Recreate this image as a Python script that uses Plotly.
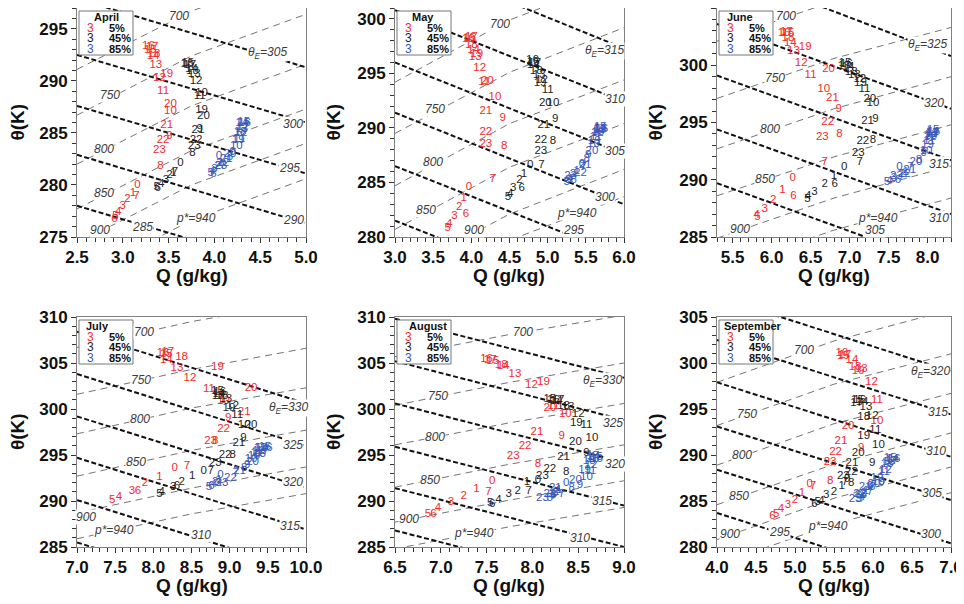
import plotly.graph_objects as go
from plotly.subplots import make_subplots

FONT = "Liberation Sans, Arial, sans-serif"
HOURS = ["0", "1", "2", "3", "4", "5", "6", "7", "8", "9", "10", "11",
         "12", "13", "14", "15", "16", "17", "18", "19", "20", "21", "22", "23"]
PCT_LABELS = ["5%", "45%", "85%"]
COLORS = ["#f22b2b", "#1e1e1e", "#3a58b8"]

# ---------------- April ----------------
APR_XR = [2.5, 5.0]
APR_YR = [275, 297]
APR_Q05 = [3.16, 3.11, 3.05, 3.00, 2.95, 2.92, 2.91, 3.15, 3.41, 3.51, 3.52, 3.44,
           3.40, 3.36, 3.33, 3.30, 3.28, 3.32, 3.34, 3.48, 3.52, 3.48, 3.44, 3.40]
APR_T05 = [280.0, 279.2, 278.6, 278.0, 277.4, 277.0, 276.7, 278.9, 281.8, 284.7, 287.1, 289.0,
           290.3, 291.5, 292.4, 293.0, 293.3, 293.2, 292.6, 290.6, 287.8, 285.7, 284.3, 283.3]
APR_Q45 = [3.63, 3.55, 3.51, 3.47, 3.42, 3.37, 3.38, 3.57, 3.76, 3.84, 3.86, 3.84,
           3.80, 3.78, 3.75, 3.71, 3.70, 3.73, 3.76, 3.86, 3.88, 3.82, 3.80, 3.78]
APR_T45 = [282.1, 281.1, 280.9, 280.5, 280.1, 279.8, 279.7, 281.2, 283.1, 285.4, 288.8, 288.5,
           290.0, 290.6, 291.1, 291.7, 291.6, 291.5, 290.9, 287.2, 286.6, 285.3, 284.3, 283.7]
APR_Q85 = [4.05, 4.07, 4.04, 4.00, 3.98, 3.96, 3.99, 4.09, 4.17, 4.20, 4.24, 4.27,
           4.29, 4.30, 4.30, 4.32, 4.33, 4.31, 4.28, 4.26, 4.17, 4.13, 4.09, 4.07]
APR_T85 = [282.8, 282.1, 281.8, 281.5, 281.3, 281.1, 281.0, 281.9, 282.7, 283.2, 283.7, 284.4,
           285.0, 285.4, 285.9, 286.0, 285.9, 285.6, 285.1, 284.3, 283.0, 282.5, 282.1, 281.8]
APR_TE_L = [297.9, 292.5, 287.6, 282.9, 278.0]
APR_TE_R = [291.3, 286.0, 281.1, 276.3, 271.5]
APR_TE_LAB = [305, 300, 295, 290, 285]
APR_TE_LQ = [4.58, 4.86, 4.82, 4.86, 3.22]
APR_TE_LT = [292.7, 285.9, 281.6, 276.6, 276.0]
APR_PS_T = [[291.1, 296.7, 300.7], [286.7, 292.4, 296.4], [282.0, 287.6, 291.6],
            [277.7, 283.3, 287.3], [274.4, 280.0, 284.0], [271.0, 276.6, 280.6]]
APR_PS_LAB = [700, 750, 800, 850, 900, 940]
APR_PS_LQ = [3.61, 2.86, 2.79, 2.79, 2.75, 3.80]
APR_PS_LT = [296.2, 288.6, 283.5, 279.2, 275.7, 276.8]

# ---------------- May ----------------
MAY_XR = [3.0, 6.0]
MAY_YR = [280, 301]
MAY_Q05 = [3.97, 3.90, 3.84, 3.78, 3.71, 3.69, 3.93, 4.28, 4.43, 4.41, 4.31, 4.17,
           4.11, 4.05, 4.03, 3.98, 3.96, 4.00, 4.00, 4.07, 4.21, 4.19, 4.19, 4.19]
MAY_T05 = [284.6, 283.6, 282.7, 281.9, 281.2, 280.8, 282.1, 285.3, 288.3, 290.9, 292.8, 294.2,
           295.5, 296.5, 297.1, 298.2, 298.1, 298.3, 297.6, 296.8, 294.3, 291.5, 289.6, 288.5]
MAY_Q45 = [4.77, 4.69, 4.63, 4.55, 4.51, 4.48, 4.66, 4.92, 5.07, 5.10, 5.07, 5.00,
           4.92, 4.89, 4.81, 4.81, 4.80, 4.83, 4.85, 4.90, 4.97, 4.95, 4.91, 4.91]
MAY_T45 = [286.6, 285.8, 285.2, 284.5, 283.9, 283.7, 284.5, 286.6, 288.8, 290.8, 292.3, 293.5,
           294.4, 294.8, 295.8, 296.0, 296.2, 295.9, 295.2, 294.1, 292.3, 290.3, 288.9, 287.9]
MAY_Q85 = [5.45, 5.38, 5.33, 5.27, 5.29, 5.25, 5.34, 5.47, 5.51, 5.53, 5.60, 5.63,
           5.65, 5.68, 5.69, 5.69, 5.71, 5.68, 5.66, 5.61, 5.58, 5.49, 5.43, 5.30]
MAY_T85 = [286.7, 286.0, 285.8, 285.2, 285.3, 285.0, 285.2, 286.4, 287.1, 287.5, 288.5, 289.2,
           289.5, 289.8, 290.0, 290.1, 289.9, 289.9, 289.6, 288.8, 287.9, 286.6, 285.9, 285.6]
MAY_TE_L = [305.8, 300.8, 296.0, 291.4, 286.5, 281.5]
MAY_TE_R = [297.3, 292.4, 287.6, 283.0, 278.2, 273.2]
MAY_TE_LAB = [315, 310, 305, 300, 295]
MAY_TE_LQ = [5.75, 5.88, 5.88, 5.75, 5.34]
MAY_TE_LT = [297.1, 292.7, 287.9, 283.7, 280.6]
MAY_PS_T = [[294.2, 299.9, 303.9], [289.5, 295.1, 299.2], [284.7, 290.4, 294.4],
            [280.7, 286.4, 290.4], [276.5, 282.1, 286.2], [274.0, 279.7, 283.7]]
MAY_PS_LAB = [700, 750, 800, 850, 900, 940]
MAY_PS_LQ = [4.38, 3.52, 3.50, 3.41, 4.03, 5.38]
MAY_PS_LT = [299.5, 291.7, 286.9, 282.5, 280.6, 282.2]

# ---------------- June ----------------
JUN_XR = [5.3, 8.3]
JUN_YR = [285, 305]
JUN_Q05 = [6.27, 6.14, 6.02, 5.91, 5.81, 5.82, 6.28, 6.68, 6.87, 6.86, 6.67, 6.50,
           6.38, 6.28, 6.24, 6.21, 6.16, 6.19, 6.21, 6.43, 6.73, 6.78, 6.72, 6.65]
JUN_T05 = [290.1, 289.1, 288.2, 287.4, 286.9, 286.7, 288.6, 291.5, 294.0, 296.2, 297.9, 299.1,
           300.2, 301.2, 301.9, 302.8, 302.8, 302.9, 302.4, 301.6, 299.7, 297.1, 295.0, 293.7]
JUN_Q45 = [6.93, 6.80, 6.68, 6.55, 6.47, 6.46, 6.81, 7.13, 7.30, 7.33, 7.30, 7.19,
           7.13, 7.06, 6.98, 6.94, 6.96, 6.93, 7.02, 7.14, 7.26, 7.23, 7.17, 7.11]
JUN_T45 = [291.1, 290.3, 289.6, 288.9, 288.6, 288.3, 289.6, 291.5, 293.5, 295.3, 296.7, 297.9,
           298.8, 299.1, 299.8, 300.2, 300.1, 299.9, 299.4, 298.4, 297.0, 295.1, 293.4, 292.3]
JUN_Q85 = [7.64, 7.72, 7.68, 7.57, 7.51, 7.48, 7.62, 7.78, 7.89, 7.95, 7.98, 8.02,
           8.03, 8.05, 8.06, 8.07, 8.08, 8.06, 8.04, 8.00, 7.85, 7.77, 7.70, 7.60]
JUN_T85 = [291.1, 290.7, 290.5, 290.1, 289.9, 289.8, 290.0, 291.1, 291.7, 292.3, 292.5, 293.4,
           293.7, 294.0, 294.2, 294.3, 294.2, 294.1, 293.8, 293.0, 291.5, 290.8, 290.5, 290.3]
JUN_TE_L = [308.6, 303.6, 299.1, 294.4, 289.7]
JUN_TE_R = [300.8, 296.2, 291.7, 287.0, 282.3]
JUN_TE_LAB = [325, 320, 315, 310, 305]
JUN_TE_LQ = [8.00, 8.08, 8.15, 8.15, 7.32]
JUN_TE_LT = [301.8, 296.7, 291.4, 286.7, 285.6]
JUN_PS_T = [[302.1, 305.6, 308.4], [297.1, 300.6, 303.3], [292.7, 296.2, 299.0],
            [288.6, 292.0, 294.8], [284.9, 288.4, 291.2], [282.1, 285.6, 288.4]]
JUN_PS_LAB = [700, 750, 800, 850, 900, 940]
JUN_PS_LQ = [6.19, 6.04, 5.98, 5.92, 5.60, 7.36]
JUN_PS_LT = [304.3, 298.9, 294.4, 290.1, 285.7, 286.7]

# ---------------- July ----------------
JUL_XR = [7.0, 10.0]
JUL_YR = [285, 310]
JUL_Q05 = [8.28, 8.08, 7.89, 7.72, 7.55, 7.46, 7.80, 8.44, 8.81, 8.98, 8.92, 8.73,
           8.48, 8.31, 8.17, 8.17, 8.13, 8.19, 8.37, 8.84, 9.28, 9.19, 8.92, 8.75]
JUL_T05 = [293.6, 292.6, 291.9, 291.1, 290.4, 290.1, 291.1, 293.8, 296.5, 299.0, 300.9, 302.2,
           303.4, 304.4, 305.3, 306.0, 306.1, 306.2, 305.6, 304.5, 302.3, 299.7, 297.8, 296.5]
JUL_Q45 = [8.66, 8.51, 8.37, 8.26, 8.11, 8.08, 8.31, 8.75, 9.04, 9.18, 9.19, 9.10,
           9.04, 8.95, 8.86, 8.84, 8.87, 8.85, 8.90, 8.99, 9.28, 9.12, 8.94, 8.81]
JUL_T45 = [293.3, 292.7, 292.1, 291.5, 291.0, 290.8, 291.6, 293.2, 295.0, 296.8, 298.2, 299.3,
           300.3, 301.1, 301.6, 301.9, 301.8, 301.4, 301.4, 300.1, 298.2, 296.3, 295.0, 294.1]
JUL_Q85 = [8.88, 8.86, 8.81, 8.85, 8.79, 8.73, 8.76, 9.08, 9.19, 9.23, 9.28, 9.35,
           9.38, 9.40, 9.42, 9.46, 9.48, 9.43, 9.39, 9.32, 9.30, 9.13, 9.01, 8.90]
JUL_T85 = [292.8, 292.3, 292.1, 291.9, 291.8, 291.5, 291.6, 293.0, 293.6, 293.9, 294.5, 295.2,
           295.4, 295.7, 295.8, 295.9, 295.8, 295.4, 295.1, 294.9, 294.2, 293.3, 292.5, 291.9]
JUL_TE_L = [308.4, 303.8, 299.2, 294.7, 290.1, 285.5]
JUL_TE_R = [300.6, 296.0, 291.4, 286.9, 282.3, 277.7]
JUL_TE_LAB = [330, 325, 320, 315, 310]
JUL_TE_LQ = [9.77, 9.83, 9.83, 9.79, 8.62]
JUL_TE_LT = [300.1, 296.1, 292.1, 287.3, 286.3]
JUL_PS_T = [[306.7, 309.5, 311.7], [301.6, 304.3, 306.6], [297.3, 300.1, 302.3],
            [292.7, 295.5, 297.7], [288.7, 291.4, 293.7], [285.9, 288.6, 290.8]]
JUL_PS_LAB = [700, 750, 800, 850, 900, 940]
JUL_PS_LQ = [7.88, 7.84, 7.82, 7.77, 7.12, 7.49]
JUL_PS_LT = [308.4, 303.2, 298.9, 294.2, 288.3, 286.8]

# ---------------- August ----------------
AUG_XR = [6.5, 9.0]
AUG_YR = [285, 310]
AUG_Q05 = [7.56, 7.39, 7.25, 7.11, 6.97, 6.86, 6.92, 7.52, 8.06, 8.32, 8.36, 8.23,
           7.99, 7.81, 7.68, 7.57, 7.50, 7.54, 7.66, 8.12, 8.19, 8.05, 7.92, 7.79]
AUG_T05 = [292.2, 291.3, 290.5, 289.9, 289.2, 288.6, 288.6, 291.0, 294.0, 297.0, 299.4, 300.3,
           302.6, 303.8, 304.7, 305.2, 305.4, 305.3, 304.8, 302.9, 300.1, 297.5, 296.0, 294.9]
AUG_Q45 = [8.06, 7.94, 7.84, 7.74, 7.63, 7.54, 7.56, 7.96, 8.37, 8.59, 8.65, 8.59,
           8.50, 8.39, 8.26, 8.19, 8.23, 8.28, 8.34, 8.48, 8.47, 8.34, 8.19, 8.11]
AUG_T45 = [292.3, 292.0, 291.1, 290.7, 290.1, 289.8, 289.7, 291.1, 293.1, 295.2, 296.8, 298.2,
           299.4, 300.2, 300.9, 301.1, 301.0, 301.0, 300.3, 298.5, 296.4, 294.8, 293.5, 292.7]
AUG_Q85 = [8.37, 8.29, 8.26, 8.25, 8.21, 8.19, 8.23, 8.32, 8.43, 8.52, 8.59, 8.63,
           8.64, 8.66, 8.67, 8.70, 8.70, 8.66, 8.62, 8.57, 8.47, 8.25, 8.19, 8.11]
AUG_T85 = [291.9, 291.2, 291.0, 290.9, 290.5, 290.3, 290.6, 290.7, 291.4, 291.7, 292.6, 293.3,
           293.9, 294.6, 294.8, 294.8, 294.6, 294.9, 294.3, 293.4, 292.3, 291.4, 290.7, 290.3]
AUG_TE_L = [309.8, 305.2, 300.6, 295.9, 291.4, 286.8]
AUG_TE_R = [303.4, 298.8, 294.2, 289.5, 285.0, 280.4]
AUG_TE_LAB = [330, 325, 320, 315, 310]
AUG_TE_LQ = [8.77, 8.88, 8.90, 8.76, 8.52]
AUG_TE_LT = [303.0, 298.5, 294.0, 290.0, 286.0]
AUG_PS_T = [[305.7, 308.1, 310.2], [300.4, 302.9, 305.0], [296.1, 298.5, 300.6],
            [291.5, 294.0, 296.1], [287.7, 290.1, 292.2], [284.8, 287.2, 289.3]]
AUG_PS_LAB = [700, 750, 800, 850, 900, 940]
AUG_PS_LQ = [7.90, 6.97, 6.94, 6.88, 6.65, 7.36]
AUG_PS_LT = [308.4, 301.4, 297.0, 292.3, 288.0, 286.5]

# ---------------- September ----------------
SEP_XR = [4.0, 7.0]
SEP_YR = [280, 305]
SEP_Q05 = [5.19, 5.09, 5.00, 4.91, 4.82, 4.76, 4.71, 5.23, 5.45, 5.85, 6.05, 6.05,
           5.98, 5.85, 5.73, 5.62, 5.60, 5.64, 5.77, 5.81, 5.68, 5.59, 5.52, 5.45]
SEP_T05 = [286.8, 285.9, 285.1, 284.6, 284.1, 283.6, 283.4, 286.6, 287.2, 290.7, 293.7, 296.0,
           297.9, 299.3, 300.3, 300.8, 301.1, 300.9, 299.6, 299.1, 293.1, 291.5, 290.3, 289.2]
SEP_Q45 = [5.67, 5.60, 5.50, 5.40, 5.34, 5.29, 5.25, 5.64, 5.72, 5.99, 6.07, 6.03,
           5.99, 5.91, 5.86, 5.80, 5.83, 5.79, 5.88, 5.88, 5.81, 5.73, 5.72, 5.62]
SEP_T45 = [287.4, 286.6, 286.0, 285.6, 285.0, 284.9, 284.7, 287.1, 286.9, 289.1, 291.1, 292.7,
           294.2, 295.2, 295.8, 296.0, 296.0, 295.6, 294.1, 292.0, 290.2, 289.1, 288.1, 287.7]
SEP_Q85 = [5.96, 5.91, 5.88, 5.81, 5.86, 5.83, 5.88, 5.96, 5.99, 6.11, 6.07, 6.14,
           6.16, 6.20, 6.25, 6.22, 6.27, 6.24, 6.18, 6.05, 6.01, 5.90, 5.83, 5.77]
SEP_T85 = [286.6, 286.1, 285.9, 285.6, 285.4, 285.2, 285.6, 286.0, 286.5, 287.1, 287.0, 288.1,
           288.4, 289.2, 289.5, 289.7, 289.6, 289.3, 289.0, 287.5, 286.8, 286.5, 285.7, 285.2]
SEP_TE_L = [307.2, 302.5, 297.9, 293.1, 288.4, 283.7]
SEP_TE_R = [299.1, 294.4, 289.8, 285.1, 280.4, 275.6]
SEP_TE_LAB = [320, 315, 310, 305, 300, 295]
SEP_TE_LQ = [6.74, 6.83, 6.81, 6.76, 6.74, 4.80]
SEP_TE_LT = [299.0, 294.7, 290.4, 285.9, 281.4, 281.6]
SEP_PS_T = [[297.9, 302.4, 305.8], [293.2, 297.7, 301.0], [288.9, 293.4, 296.7],
            [284.6, 289.0, 292.4], [280.8, 285.3, 288.7], [278.1, 282.5, 285.9]]
SEP_PS_LAB = [700, 750, 800, 850, 900, 940]
SEP_PS_LQ = [5.12, 4.39, 4.32, 4.28, 4.17, 5.42]
SEP_PS_LT = [301.4, 294.5, 290.0, 285.5, 281.4, 282.3]

PANELS = [
    dict(name="April", xr=APR_XR, yr=APR_YR, q=[APR_Q05, APR_Q45, APR_Q85], t=[APR_T05, APR_T45, APR_T85],
         te=(APR_TE_L, APR_TE_R, APR_TE_LAB, APR_TE_LQ, APR_TE_LT),
         ps=(APR_PS_T, APR_PS_LAB, APR_PS_LQ, APR_PS_LT), toff=13),
    dict(name="May", xr=MAY_XR, yr=MAY_YR, q=[MAY_Q05, MAY_Q45, MAY_Q85], t=[MAY_T05, MAY_T45, MAY_T85],
         te=(MAY_TE_L, MAY_TE_R, MAY_TE_LAB, MAY_TE_LQ, MAY_TE_LT),
         ps=(MAY_PS_T, MAY_PS_LAB, MAY_PS_LQ, MAY_PS_LT), toff=13),
    dict(name="June", xr=JUN_XR, yr=JUN_YR, q=[JUN_Q05, JUN_Q45, JUN_Q85], t=[JUN_T05, JUN_T45, JUN_T85],
         te=(JUN_TE_L, JUN_TE_R, JUN_TE_LAB, JUN_TE_LQ, JUN_TE_LT),
         ps=(JUN_PS_T, JUN_PS_LAB, JUN_PS_LQ, JUN_PS_LT), toff=6),
    dict(name="July", xr=JUL_XR, yr=JUL_YR, q=[JUL_Q05, JUL_Q45, JUL_Q85], t=[JUL_T05, JUL_T45, JUL_T85],
         te=(JUL_TE_L, JUL_TE_R, JUL_TE_LAB, JUL_TE_LQ, JUL_TE_LT),
         ps=(JUL_PS_T, JUL_PS_LAB, JUL_PS_LQ, JUL_PS_LT), toff=5),
    dict(name="August", xr=AUG_XR, yr=AUG_YR, q=[AUG_Q05, AUG_Q45, AUG_Q85], t=[AUG_T05, AUG_T45, AUG_T85],
         te=(AUG_TE_L, AUG_TE_R, AUG_TE_LAB, AUG_TE_LQ, AUG_TE_LT),
         ps=(AUG_PS_T, AUG_PS_LAB, AUG_PS_LQ, AUG_PS_LT), toff=10),
    dict(name="September", xr=SEP_XR, yr=SEP_YR, q=[SEP_Q05, SEP_Q45, SEP_Q85], t=[SEP_T05, SEP_T45, SEP_T85],
         te=(SEP_TE_L, SEP_TE_R, SEP_TE_LAB, SEP_TE_LQ, SEP_TE_LT),
         ps=(SEP_PS_T, SEP_PS_LAB, SEP_PS_LQ, SEP_PS_LT), toff=3),
]

# panel frames in pixels of the 964x604 page; the page body adds an 8px offset
OFF = 8
W, H = 964 - OFF, 604 - OFF
COL_PX = [(77, 306), (395, 624), (717, 951)]
ROW_PX = [(8, 237), (317, 547)]


def px(x):
    return (x - OFF) / W


def py(y):
    return 1 - (y - OFF) / H


def paper_text(fig, x, y, text, font, xanchor="center", angle=0):
    fig.add_annotation(x=px(x), y=py(y), xref="paper", yref="paper", text=text,
                       showarrow=False, xanchor=xanchor, yanchor="middle",
                       textangle=angle, font=font)


fig = make_subplots(rows=2, cols=3)

for i, p in enumerate(PANELS):
    row, col = i // 3 + 1, i % 3 + 1
    x0, x1 = p["xr"]
    qs = [x0, (x0 + x1) / 2, x1]
    ps_t, ps_lab, ps_lq, ps_lt = p["ps"]
    te_l, te_r, te_lab, te_lq, te_lt = p["te"]

    # isolines of saturation pressure p*
    for th in ps_t:
        fig.add_trace(go.Scatter(x=qs, y=th, mode="lines",
                                 line=dict(color="#747474", width=1, dash="7px,5px"),
                                 hoverinfo="skip", showlegend=False), row=row, col=col)
    # isolines of theta_E
    for tl, tr in zip(te_l, te_r):
        fig.add_trace(go.Scatter(x=[x0, x1], y=[tl, tr], mode="lines",
                                 line=dict(color="#111111", width=2, dash="5px,2.5px"),
                                 hoverinfo="skip", showlegend=False), row=row, col=col)
    # hourly values as hour numbers
    for k in range(3):
        fig.add_trace(go.Scatter(x=p["q"][k], y=p["t"][k], mode="text", text=HOURS,
                                 textposition="middle center",
                                 textfont=dict(color=COLORS[k], size=11.5, family=FONT),
                                 hoverinfo="skip", showlegend=False), row=row, col=col)

    xref = "x" if i == 0 else f"x{i + 1}"
    yref = "y" if i == 0 else f"y{i + 1}"
    lab_font = dict(family=FONT, size=12, color="#3c3c3c")
    for v, lq, lt in zip(ps_lab, ps_lq, ps_lt):
        txt = f"<i>p*={v}</i>" if v == 940 else f"<i>{v}</i>"
        fig.add_annotation(x=lq, y=lt, xref=xref, yref=yref, text=txt, showarrow=False,
                           xanchor="center", yanchor="middle",
                           font=lab_font, bgcolor="white", borderpad=0)
    for j, (v, lq, lt) in enumerate(zip(te_lab, te_lq, te_lt)):
        txt = f"<i>θ<sub>E</sub>={v}</i>" if j == 0 else f"<i>{v}</i>"
        fig.add_annotation(x=lq, y=lt, xref=xref, yref=yref, text=txt, showarrow=False,
                           xanchor="center", yanchor="middle",
                           font=lab_font, bgcolor="white", borderpad=0)

    cl, cr = COL_PX[col - 1]
    rt, rb = ROW_PX[row - 1]
    axis_common = dict(showline=True, mirror=True, linecolor="#808080", linewidth=1,
                       ticks="outside", ticklen=5, tickcolor="#333333", showgrid=False,
                       zeroline=False, automargin=False,
                       tickfont=dict(family=FONT, size=17, color="#111111", weight="bold"))
    fig.update_xaxes(range=p["xr"], domain=[px(cl), px(cr)], dtick=0.5, tick0=0,
                     tickformat=".1f",
                     minor=dict(dtick=0.1, ticks="outside", ticklen=4, tickcolor="#333333"),
                     row=row, col=col, **axis_common)
    fig.update_yaxes(range=p["yr"], domain=[py(rb), py(rt)], dtick=5, tick0=0,
                     minor=dict(dtick=1, ticks="outside", ticklen=4, tickcolor="#333333"),
                     row=row, col=col, **axis_common)

    # axis titles
    title_font = dict(family=FONT, size=19, color="#111111", weight="bold")
    paper_text(fig, (cl + cr) / 2, rb + 38, "Q (g/kg)", title_font)
    paper_text(fig, max(cl - 62, 17), (rt + rb) / 2, "θ(K)", title_font, angle=-90)

    # legend box
    bl, bt = cl + 2, rt + 3
    fig.add_shape(type="rect", xref="paper", yref="paper", x0=px(bl), x1=px(bl + 54),
                  y0=py(bt + 44), y1=py(bt), line=dict(color="#777777", width=1),
                  fillcolor="white", layer="above")
    paper_text(fig, bl + p["toff"], bt + 6, f"<b>{p['name']}</b>",
               dict(family=FONT, size=11, color="#111111"), xanchor="left")
    for k, (lab, yy) in enumerate(zip(PCT_LABELS, [16.5, 27, 38])):
        paper_text(fig, bl + 11, bt + yy, "3", dict(family=FONT, size=12, color=COLORS[k]))
        paper_text(fig, bl + 28, bt + yy, f"<b>{lab}</b>",
                   dict(family=FONT, size=11, color="#111111"), xanchor="left")

fig.update_layout(width=W, height=H, margin=dict(l=0, r=0, t=0, b=0),
                  paper_bgcolor="white", plot_bgcolor="white", showlegend=False)

fig.write_html("out.html")
